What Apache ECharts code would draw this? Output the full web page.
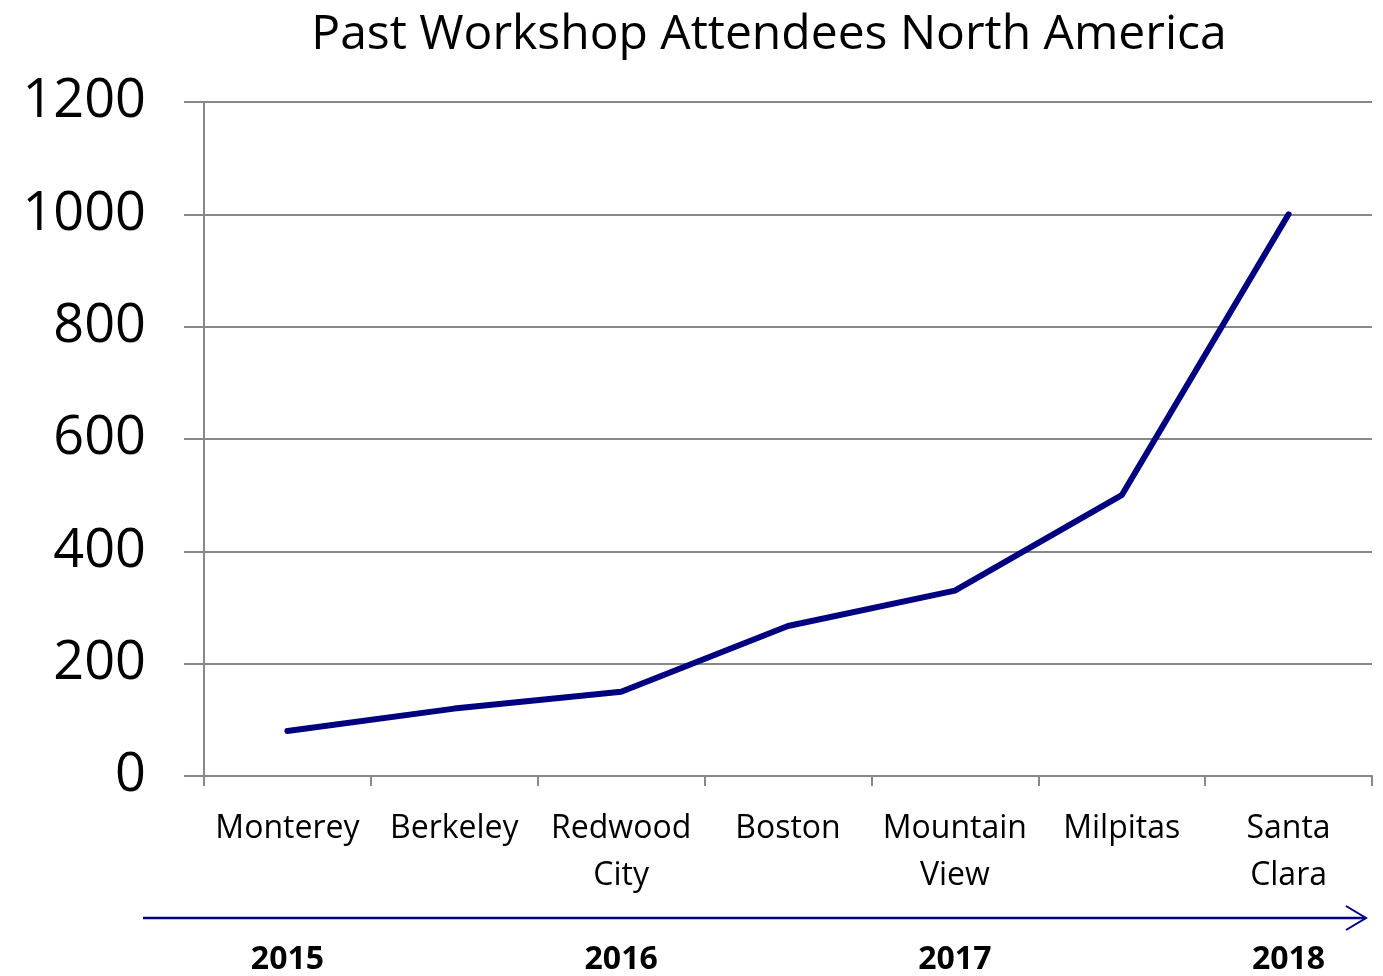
<!DOCTYPE html>
<html>
<head>
<meta charset="utf-8">
<script src="https://cdn.jsdelivr.net/npm/echarts@6/dist/echarts.min.js"></script>
<style>
html,body{margin:0;padding:0;background:#fff;}
#c{width:1383px;height:976px;}
</style>
</head>
<body>
<div id="c"></div>
<script>
const titleText = 'Past Workshop Attendees North America';
const categories = ['Monterey', 'Berkeley', 'Redwood\nCity', 'Boston', 'Mountain\nView', 'Milpitas', 'Santa\nClara'];
const attendees = [80, 120, 150, 267, 330, 500, 1000];
const yearLabels = ['2015', '', '2016', '', '2017', '', '2018'];
const yTicks = { min: 0, max: 1200, interval: 200 };

const FONT = '"Open Sans", "Noto Sans", sans-serif';
const chart = echarts.init(document.getElementById('c'));
chart.setOption({
  animation: false,
  backgroundColor: '#ffffff',
  title: {
    text: titleText,
    left: 764,
    top: 6,
    textAlign: 'center',
    textStyle: { fontFamily: FONT, fontSize: 48, fontWeight: 'normal', color: '#000' }
  },
  grid: { left: 204, right: 11, top: 102, bottom: 196, containLabel: false },
  xAxis: [{
    type: 'category',
    data: categories,
    boundaryGap: true,
    axisLine: { show: true, lineStyle: { color: '#888', width: 2 } },
    axisTick: { show: true, length: 10, alignWithLabel: false, lineStyle: { color: '#888', width: 2 } },
    axisLabel: { fontFamily: FONT, fontSize: 32, color: '#000', lineHeight: 47, margin: 29, interval: 0 },
    splitLine: { show: false }
  }, {
    type: 'category',
    data: yearLabels,
    position: 'bottom',
    offset: 168,
    boundaryGap: true,
    axisLine: { show: false },
    axisTick: { show: false },
    axisLabel: { fontFamily: FONT, fontSize: 32, fontWeight: 'bold', color: '#000', margin: 0, interval: 0 }
  }],
  yAxis: {
    type: 'value',
    min: yTicks.min, max: yTicks.max, interval: yTicks.interval,
    axisLine: { show: true, lineStyle: { color: '#888', width: 2 } },
    axisTick: { show: true, length: 20, lineStyle: { color: '#888', width: 2 } },
    axisLabel: { fontFamily: FONT, fontSize: 54, color: '#000', margin: 58, formatter: v => String(v) },
    splitLine: { show: true, lineStyle: { color: '#888', width: 2 } }
  },
  graphic: [{
    type: 'polyline',
    shape: { points: [[143, 918], [1365, 918]] },
    style: { stroke: '#000080', lineWidth: 2.5 }
  }, {
    type: 'polyline',
    shape: { points: [[1346, 906], [1366, 918], [1346, 930]] },
    style: { stroke: '#000080', lineWidth: 2, fill: null }
  }],
  series: [{
    type: 'line',
    data: attendees,
    xAxisIndex: 0,
    symbol: 'none',
    lineStyle: { color: '#000080', width: 6, cap: 'round', join: 'round' }
  }]
});
</script>
</body>
</html>
